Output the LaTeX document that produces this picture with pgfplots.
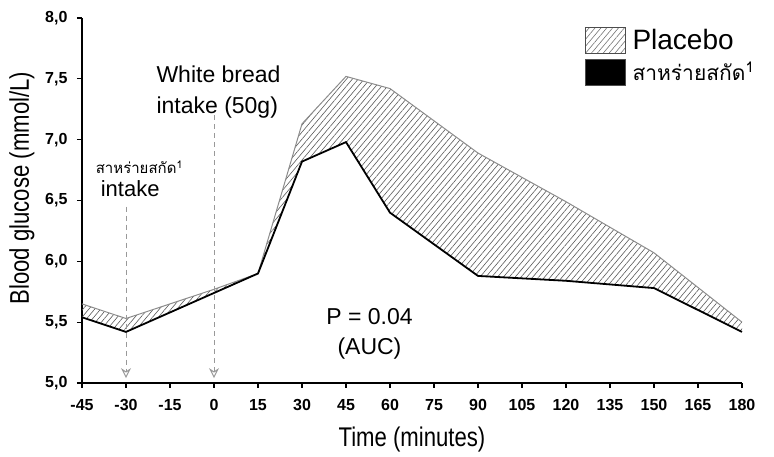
\documentclass[border=0pt]{standalone}
\usepackage{fontspec}
\setmainfont{Liberation Sans}
\newfontfamily\narrowfont[FakeStretch=0.82]{Liberation Sans}
\newfontfamily\thaifont[Script=Thai]{Loma}
\usepackage{pgfplots}
\pgfplotsset{compat=1.18}
\usepgfplotslibrary{fillbetween}
\usetikzlibrary{patterns.meta,arrows.meta}

\begin{document}
\begin{tikzpicture}
\begin{axis}[
    name=ax,
    scale only axis,
    width=660pt, height=365pt,
    xmin=-45, xmax=180, ymin=5, ymax=8,
    axis lines*=left,
    axis line style={line width=1.5pt},
    xtick={-45,-30,...,180},
    ytick={5,5.5,...,8},
    tick align=outside,
    major tick length=5pt,
    tick style={line width=1.2pt, black},
    /pgf/number format/assume math mode=true,
    yticklabel style={xshift=-6pt, /pgf/number format/.cd, fixed, fixed zerofill, precision=1, use comma},
    xticklabel style={yshift=-8pt},
    tick label style={font=\bfseries\fontsize{16}{18}\selectfont},
    xlabel={Time (minutes)},
    ylabel={Blood glucose (mmol/L)},
    label style={font=\narrowfont\fontsize{27}{30}\selectfont},
    xlabel style={at={(axis description cs:0.5,0)}, anchor=center, yshift=-57pt},
    ylabel style={at={(axis description cs:0,0.534)}, anchor=center, yshift=60pt},
    clip=false,
    legend style={draw=none, fill=none, at={(rel axis cs:0.762,0.975)}, anchor=north west,
        inner sep=0pt, row sep=5pt, column sep=5pt},
    legend cell align=left,
    legend image code/.code={\draw[#1, draw=black!70] (0pt,-13pt) rectangle (40pt,13pt);},
]
% Placebo
\addplot[name path=P, draw=black!45, line width=1pt, forget plot] coordinates {
(-45,5.65) (-30,5.53) (0,5.77) (15,5.90) (30,7.13) (45,7.52) (60,7.42) (90,6.89) (120,6.49) (150,6.07) (180,5.50)};
% extract
\addplot[name path=E, draw=black, line width=1.8pt, forget plot] coordinates {
(-45,5.54) (-30,5.42) (0,5.74) (15,5.90) (30,6.82) (45,6.98) (60,6.40) (90,5.88) (120,5.84) (150,5.78) (180,5.42)};
\addplot[pattern={Lines[angle=50,distance=4.5pt,line width=0.6pt]}, pattern color=black!65, draw=none, forget plot]
    fill between[of=P and E];

\addlegendimage{pattern={Lines[angle=50,distance=4.5pt,line width=0.6pt]}, pattern color=black!55}
\addlegendentry{\fontsize{28}{30}\selectfont Placebo}
\addlegendimage{fill=black}
\addlegendentry{\thaifont\fontsize{21}{24}\selectfont สาหร่ายสกัด\textsuperscript{1}}

% intake markers
\addplot[draw=black!40, line width=1pt, dash pattern=on 5pt off 4pt,
    -{Stealth[open,length=10pt,width=10pt]}, forget plot] coordinates {(-30,6.45) (-30,5.04)};
\addplot[draw=black!40, line width=1pt, dash pattern=on 5pt off 4pt,
    -{Stealth[open,length=10pt,width=10pt]}, forget plot] coordinates {(0,7.20) (0,5.04)};

\node[anchor=west, align=left, font=\fontsize{23}{31}\selectfont] at (axis cs:-20.8,7.39)
    {White bread\\intake (50g)};
\node[anchor=west, font=\thaifont\fontsize{15}{17}\selectfont] at (axis cs:-41.5,6.77)
    {สาหร่ายสกัด\textsuperscript{1}};
\node[anchor=west, font=\fontsize{22}{24}\selectfont] at (axis cs:-39.8,6.60) {intake};
\node[align=center, font=\fontsize{23}{30}\selectfont] at (axis cs:53,5.40) {P = 0.04\\(AUC)};
\end{axis}
\pgfresetboundingbox
\path ([shift={(-82pt,-74pt)}]ax.south west) rectangle ++(774pt,457pt);
\end{tikzpicture}
\end{document}
